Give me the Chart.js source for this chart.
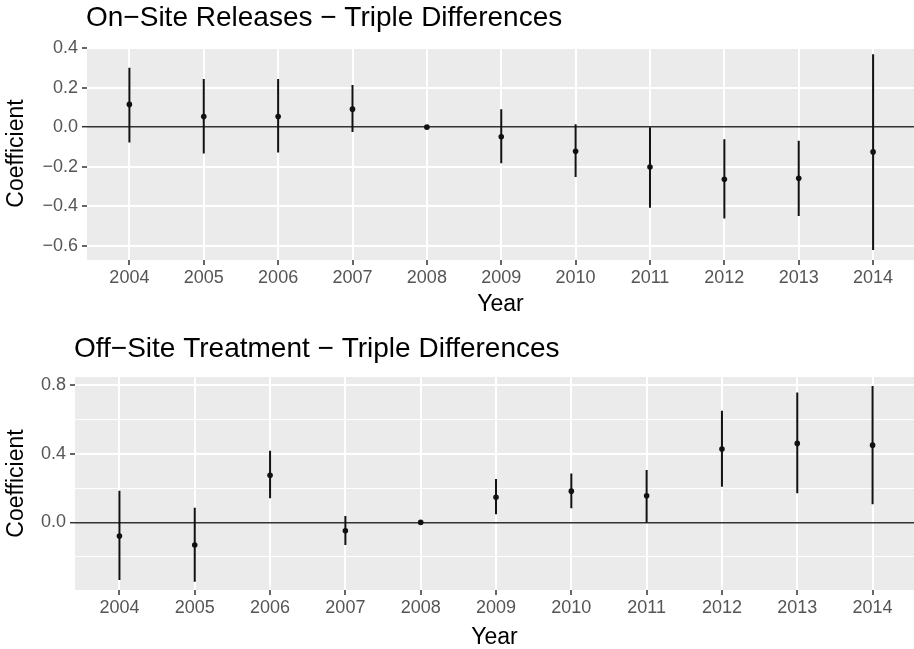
<!DOCTYPE html>
<html>
<head>
<meta charset="utf-8">
<script src="https://cdn.jsdelivr.net/npm/chart.js@4/dist/chart.umd.min.js"></script>
<style>
  html, body { margin: 0; padding: 0; background: #fff; }
  canvas { display: block; }
</style>
</head>
<body>
<canvas id="onsite-chart" width="914" height="325"></canvas>
<canvas id="offsite-chart" width="914" height="324"></canvas>
<script>
const years = [2004, 2005, 2006, 2007, 2008, 2009, 2010, 2011, 2012, 2013, 2014];

// On-site releases: estimate and 95% interval
const onSiteCoef = [0.115, 0.054, 0.054, 0.091, 0, -0.049, -0.122, -0.201, -0.263, -0.258, -0.125];
const onSiteLow  = [-0.078, -0.133, -0.128, -0.024, 0, -0.182, -0.252, -0.407, -0.461, -0.449, -0.621];
const onSiteHigh = [0.300, 0.243, 0.243, 0.213, 0, 0.091, 0.015, 0.0, -0.061, -0.069, 0.368];

// Off-site treatment
const offSiteCoef = [-0.080, -0.132, 0.275, -0.049, 0, 0.146, 0.182, 0.155, 0.427, 0.460, 0.450];
const offSiteLow  = [-0.336, -0.346, 0.140, -0.132, 0, 0.047, 0.082, 0.0, 0.207, 0.169, 0.105];
const offSiteHigh = [0.184, 0.085, 0.417, 0.037, 0, 0.252, 0.285, 0.305, 0.650, 0.757, 0.794];

const onSiteTicks = [-0.6, -0.4, -0.2, 0, 0.2, 0.4];
const onSiteMinor = [-0.5, -0.3, -0.1, 0.1, 0.3];
const offSiteTicks = [0, 0.4, 0.8];
const offSiteMinor = [-0.2, 0.2, 0.6];

const FONT = "'Liberation Sans', Arial, sans-serif";

const panelBackground = {
    id: 'panelBackground',
    beforeDraw(chart) {
        const { ctx, chartArea: a } = chart;
        ctx.save();
        ctx.fillStyle = '#EBEBEB';
        ctx.fillRect(a.left, a.top, a.right - a.left, a.bottom - a.top);
        ctx.restore();
    }
};

const panelTitle = {
    id: 'panelTitle',
    afterDraw(chart, args, opts) {
        const { ctx, chartArea: a } = chart;
        ctx.save();
        ctx.font = '28px ' + FONT;
        ctx.fillStyle = '#000';
        ctx.textBaseline = 'alphabetic';
        ctx.fillText(opts.text, a.left - 1, opts.y);
        ctx.restore();
    }
};

function fmt(v) {
    return v.toFixed(1).replace('-', '\u2212');
}

function makePanel(id, title, coef, low, high, major, minor, cfg) {
    const points = years.map((yr, i) => ({ x: yr, y: coef[i] }));
    const bars = [];
    years.forEach((yr, i) => {
        bars.push({ x: yr, y: low[i] }, { x: yr, y: high[i] }, { x: yr, y: null });
    });

    return new Chart(document.getElementById(id), {
        type: 'scatter',
        data: {
            datasets: [{
                data: points,
                pointRadius: 2.8,
                pointBackgroundColor: '#111',
                pointBorderWidth: 0
            }, {
                data: bars,
                showLine: true,
                spanGaps: false,
                borderColor: '#111',
                borderWidth: 2,
                pointRadius: 0
            }]
        },
        options: {
            responsive: false,
            devicePixelRatio: 1,
            animation: false,
            events: [],
            layout: { autoPadding: false, padding: { top: cfg.top, left: 0, right: 0, bottom: 0 } },
            scales: {
                x: {
                    type: 'linear',
                    min: cfg.xMin,
                    max: cfg.xMax,
                    afterBuildTicks: s => { s.ticks = years.map(v => ({ value: v })); },
                    afterFit: s => { s.height = cfg.xHeight; },
                    grid: { color: '#fff', lineWidth: 2, tickColor: '#333', tickLength: 5, tickWidth: 1.5 },
                    border: { display: false },
                    ticks: {
                        padding: 2,
                        color: '#555',
                        font: { family: FONT, size: 18 },
                        callback: v => String(v)
                    },
                    title: {
                        display: true,
                        text: 'Year',
                        color: '#000',
                        font: { family: FONT, size: 23, lineHeight: 1 },
                        padding: { top: 0, bottom: cfg.yearPad }
                    }
                },
                y: {
                    type: 'linear',
                    min: cfg.yMin,
                    max: cfg.yMax,
                    afterBuildTicks: s => {
                        s.ticks = major.concat(minor).sort((a, b) => a - b).map(v => ({ value: v }));
                    },
                    afterFit: s => { s.width = cfg.yWidth; },
                    grid: {
                        color: c => c.tick.value === 0 ? '#333' : '#fff',
                        lineWidth: c => c.tick.value === 0 ? 1.4 : (major.includes(c.tick.value) ? 2 : 1),
                        tickColor: c => major.includes(c.tick.value) ? '#333' : 'rgba(0,0,0,0)',
                        tickLength: 5,
                        tickWidth: 1.5
                    },
                    border: { display: false },
                    ticks: {
                        padding: 4,
                        color: '#555',
                        font: { family: FONT, size: 18 },
                        callback: v => major.includes(v) ? fmt(v) : ''
                    },
                    title: {
                        display: true,
                        text: 'Coefficient',
                        color: '#000',
                        font: { family: FONT, size: 23, lineHeight: 1 },
                        padding: { top: 5, bottom: 0 }
                    }
                }
            },
            plugins: {
                legend: { display: false },
                tooltip: { enabled: false },
                panelTitle: { text: title, y: cfg.titleY }
            }
        },
        plugins: [panelBackground, panelTitle]
    });
}

makePanel('onsite-chart', 'On\u2212Site Releases \u2212 Triple Differences',
    onSiteCoef, onSiteLow, onSiteHigh, onSiteTicks, onSiteMinor,
    { top: 47, xHeight: 65, yWidth: 87, xMin: 2003.43, xMax: 2014.55,
      yMin: -0.671, yMax: 0.405, yearPad: 9, titleY: 26 });

makePanel('offsite-chart', 'Off\u2212Site Treatment \u2212 Triple Differences',
    offSiteCoef, offSiteLow, offSiteHigh, offSiteTicks, offSiteMinor,
    { top: 52, xHeight: 59, yWidth: 75, xMin: 2003.41, xMax: 2014.55,
      yMin: -0.394, yMax: 0.847, yearPad: 0, titleY: 32 });
</script>
</body>
</html>
